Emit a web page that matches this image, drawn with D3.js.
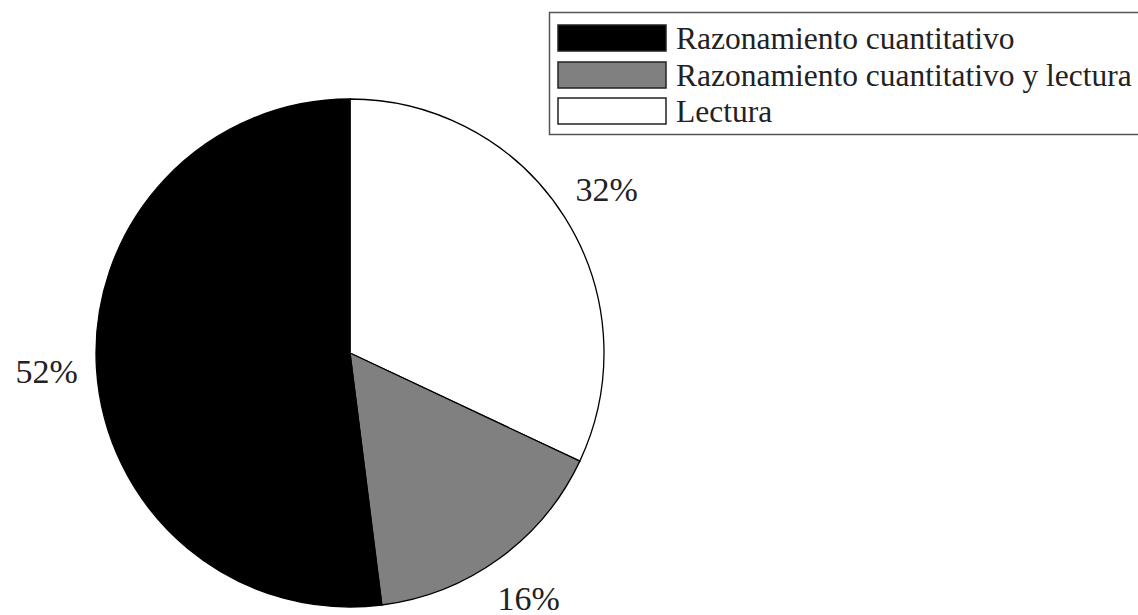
<!DOCTYPE html>
<html><head><meta charset="utf-8">
<script src="https://cdn.jsdelivr.net/npm/d3@7"></script>
<style>body{margin:0;background:#fff}svg{display:block}</style>
</head><body>
<svg id="c" width="1138" height="615"></svg>
<script>
const categories = ["Razonamiento cuantitativo", "Razonamiento cuantitativo y lectura", "Lectura"];
const values = [52, 16, 32];
const colors = ["#000000", "#808080", "#ffffff"];
const labels = ["52%", "16%", "32%"];

const FONT = "Liberation Serif";
const svg = d3.select("#c");
const cx = 350, cy = 353, r = 254;
// Drawn clockwise from 12 o'clock: Lectura, mixed, cuantitativo
const order = [2, 1, 0];
const pie = d3.pie().sort(null).value(i => values[i]);
const arcs = pie(order);
const arc = d3.arc().innerRadius(0).outerRadius(r);
const g = svg.append("g").attr("transform", `translate(${cx},${cy})`);
g.selectAll("path").data(arcs).join("path")
  .attr("d", arc)
  .attr("fill", d => colors[d.data])
  .attr("stroke", "#000").attr("stroke-width", 1.3);

const labelArc = d3.arc().innerRadius(r + 50).outerRadius(r + 50);
g.selectAll("text").data(arcs).join("text")
  .attr("transform", d => { const c = labelArc.centroid(d); return `translate(${c[0]},${c[1]})`; })
  .attr("text-anchor", "middle").attr("dy", "0.33em")
  .attr("font-family", FONT).attr("font-size", 34).attr("fill", "#222")
  .text(d => labels[d.data]);

// legend
const lg = svg.append("g");
lg.append("rect").attr("x", 549.5).attr("y", 12.5).attr("width", 600).attr("height", 122)
  .attr("fill", "#fff").attr("stroke", "#555").attr("stroke-width", 1.5);
const rowY = [25, 62, 98];
categories.forEach((c, i) => {
  lg.append("rect").attr("x", 558).attr("y", rowY[i]).attr("width", 108).attr("height", 26)
    .attr("fill", colors[i]).attr("stroke", "#222").attr("stroke-width", 1.5);
  lg.append("text").attr("x", 676).attr("y", rowY[i] + 24)
    .attr("font-family", FONT).attr("font-size", 31.5).attr("fill", "#222").text(c);
});
</script>
</body></html>
